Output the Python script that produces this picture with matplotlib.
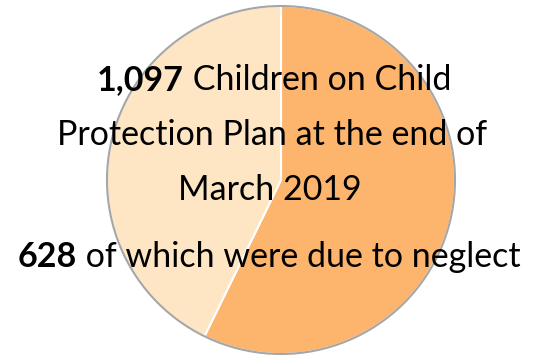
import matplotlib.pyplot as plt

# children on a child protection plan, split by neglect / other reasons
categories = ['Neglect', 'Other']
total_children = 1097
neglect_children = 628
values = [neglect_children, total_children - neglect_children]
colors = ['#FDB46C', '#FEE5C4']

line1 = [('1,097', 'bold'), (' Children on Child', 'normal')]
line2 = [('Protection Plan at the end of', 'normal')]
line3 = [('March 2019', 'normal')]
line4 = [('628', 'bold'), (' of which were due to neglect', 'normal')]

plt.rcParams['font.family'] = ['Lato', 'DejaVu Sans']

fig = plt.figure(figsize=(5.49, 3.55), dpi=100)
ax = fig.add_axes([0, 0, 1, 1])

# y axis runs downward, so angles are mirrored: start at 270 going
# counterclockwise in data space draws clockwise from the top on screen
cx, cy, r = 281, 180, 174
ax.pie(values, colors=colors, startangle=270, counterclock=True,
       center=(cx, cy), radius=r, frame=True,
       wedgeprops=dict(edgecolor='white', linewidth=1.5))
ax.add_patch(plt.Circle((cx, cy), r, fill=False, edgecolor='#A6A6A6', linewidth=1.5))
ax.set_xlim(0, 549)
ax.set_ylim(355, 0)
ax.set_aspect('equal')
ax.axis('off')

renderer = fig.canvas.get_renderer()
fs = 24.5


def centered_line(segments, x, y):
    texts = [ax.text(0, y, s, fontsize=fs, fontweight=w, va='baseline', ha='left')
             for s, w in segments]
    widths = [t.get_window_extent(renderer).width for t in texts]
    start = x - sum(widths) / 2
    for t, w in zip(texts, widths):
        t.set_x(start)
        start += w


centered_line(line1, 274, 90)
centered_line(line2, 272, 145)
centered_line(line3, 270, 200)
centered_line(line4, 269, 267)

fig.savefig('out.png', dpi=100)
